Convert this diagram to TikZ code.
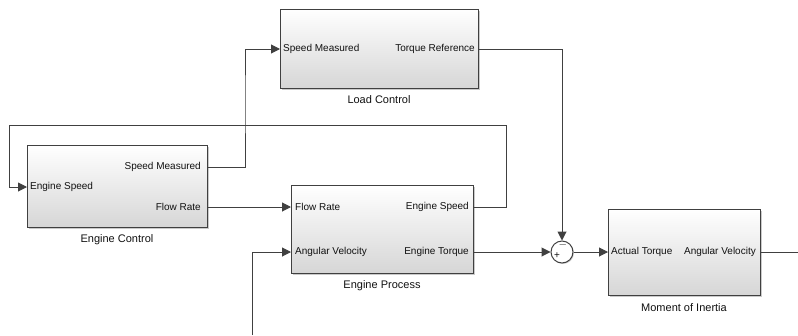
\documentclass[tikz,border=0pt]{standalone}
\usepackage{fontspec}
\setmainfont{Liberation Sans}
\usetikzlibrary{arrows.meta,shadows}
\definecolor{linec}{HTML}{404040}
\definecolor{txtc}{HTML}{111111}
\tikzset{
  blk/.style={draw=linec, line width=1pt, top color=white, bottom color=black!16,
    drop shadow={shadow xshift=1.5pt, shadow yshift=-1.5pt, opacity=0.35, fill=black!60},
    inner sep=0pt},
  port/.style={font=\fontsize{10}{12}\selectfont, text=txtc, inner sep=0pt},
  ttl/.style={font=\fontsize{11}{13}\selectfont, text=txtc, inner sep=0pt},
  wire/.style={draw=linec, line width=1pt},
  sig/.style={wire, -{Triangle[length=9pt,width=9pt]}},
  sumc/.style={circle, draw=linec, line width=1pt, fill=white, minimum size=22pt, inner sep=0pt,
    drop shadow={shadow xshift=1pt, shadow yshift=-1pt, opacity=0.3, fill=black!60}}
}
\begin{document}
\begin{tikzpicture}[x=1pt,y=-1pt]
\useasboundingbox (0,0) rectangle (798,335);
% blocks
\node[blk, minimum width=180pt, minimum height=82pt] (ec) at (117,186) {};
\node[blk, minimum width=198pt, minimum height=79pt] (lc) at (379,48.5) {};
\node[blk, minimum width=182pt, minimum height=88pt] (ep) at (382,229) {};
\node[blk, minimum width=152pt, minimum height=86pt] (mi) at (684,252) {};
\node[sumc] (sum) at (562,252) {};
\node[font=\fontsize{10}{10}\selectfont, text=txtc, inner sep=0pt] (plus) at (557,256) {+};
\node[font=\fontsize{11}{11}\selectfont, text=txtc, inner sep=0pt] (minus) at (563,244.5) {$-$};
% titles
\node[ttl] (ect) at (117,240) {Engine Control};
\node[ttl] (lct) at (379,100) {Load Control};
\node[ttl] (ept) at (382,286) {Engine Process};
\node[ttl] (mit) at (684,308) {Moment of Inertia};
% port coordinates
\coordinate (ecin) at (27,187);
\coordinate (ecsm) at (207,167);
\coordinate (ecfr) at (207,207);
\coordinate (lcin) at (280,49);
\coordinate (lcout) at (478,49);
\coordinate (epfr) at (291,207);
\coordinate (epav) at (291,252);
\coordinate (epes) at (473,207);
\coordinate (epet) at (473,252);
\coordinate (miin) at (608,252);
\coordinate (miout) at (760,252);
% port labels
\node[port, anchor=west] (l1) at (30,187) {Engine Speed};
\node[port, anchor=east] (l2) at (201,167) {Speed Measured};
\node[port, anchor=east] (l3) at (201,207) {Flow Rate};
\node[port, anchor=west] (l4) at (283,49) {Speed Measured};
\node[port, anchor=east] (l5) at (475,49) {Torque Reference};
\node[port, anchor=west] (l6) at (295,207) {Flow Rate};
\node[port, anchor=west] (l7) at (295,252) {Angular Velocity};
\node[port, anchor=east] (l8) at (469,207) {Engine Speed};
\node[port, anchor=east] (l9) at (469,252) {Engine Torque};
\node[port, anchor=west] (l10) at (611,252) {Actual Torque};
\node[port, anchor=east] (l11) at (756,252) {Angular Velocity};
% free ends
\coordinate (avsrc) at (252,335);
\coordinate (outend) at (798,252);
% connectors
\draw[sig] (ecsm) -| (245,100) |- (lcin);
\draw[sig] (ecfr) -- (epfr);
\draw[sig] (epes) -| (506,125) -| (9,187) -- (ecin);
\draw[sig] (avsrc) |- (epav);
\draw[sig] (lcout) -| (sum.north);
\draw[sig] (epet) -- (sum.west);
\draw[sig] (sum.east) -- (miin);
\draw[wire] (miout) -- (outend);
\end{tikzpicture}
\end{document}
